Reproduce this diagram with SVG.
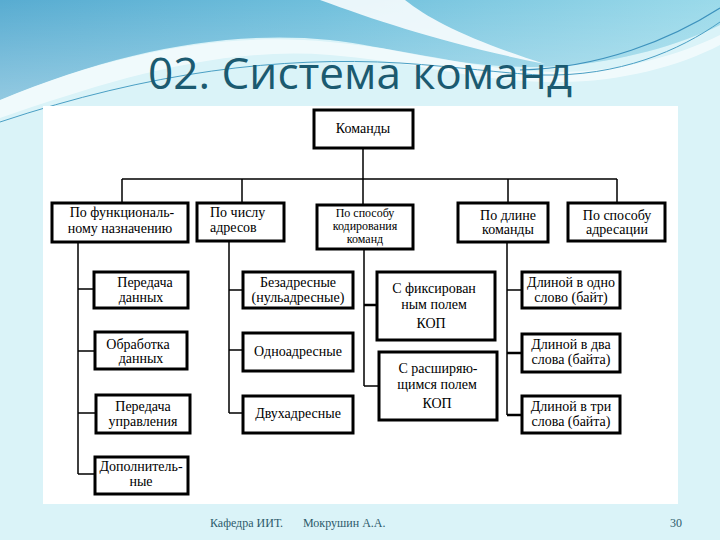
<svg xmlns="http://www.w3.org/2000/svg" width="720" height="540" viewBox="0 0 720 540">
<defs>
<linearGradient id="gTop" x1="0" y1="0" x2="1" y2="0">
<stop offset="0" stop-color="#58acd1"/>
<stop offset="0.45" stop-color="#6fbfdc"/>
<stop offset="1" stop-color="#9bdaea"/>
</linearGradient>
<linearGradient id="gFade" x1="0" y1="0" x2="0" y2="1">
<stop offset="0" stop-color="#ffffff" stop-opacity="0"/>
<stop offset="1" stop-color="#ffffff" stop-opacity="0.35"/>
</linearGradient>
<style>
.box{fill:#ffffff;stroke:#000000;stroke-width:3}
.ln{fill:none;stroke:#000000;stroke-width:1.5}
.lt{fill:none;stroke:#000000;stroke-width:2.5}
.t{font-family:"Liberation Serif","Times New Roman",serif;font-size:14px;fill:#000000;text-anchor:middle}
.ts{font-family:"Liberation Serif","Times New Roman",serif;font-size:14px;fill:#000000}
.tc{font-family:"Liberation Serif","Times New Roman",serif;font-size:12px;fill:#000000;text-anchor:middle}
.ft{font-family:"Liberation Serif","DejaVu Serif",serif;font-size:12px;fill:#2d5b6b}
</style>
</defs>
<rect x="0" y="0" width="720" height="540" fill="#daf3f8"/>
<path d="M0,0 H720 V25 C680,45 620,62 560,66 C470,72 400,48 330,40 C230,30 120,50 0,100 Z" fill="url(#gTop)"/>
<path d="M0,0 H720 V25 C680,45 620,62 560,66 C470,72 400,48 330,40 C230,30 120,50 0,100 Z" fill="url(#gFade)"/>
<path d="M320,0 C380,22 450,45 545,64 C470,40 430,20 405,0 Z" fill="#ffffff" opacity="0.85"/>
<path d="M0,100 C120,50 230,32 330,42 C420,50 480,72 560,72 C620,72 680,55 720,35 V45 C680,66 620,82 560,82 C470,82 420,62 330,55 C220,46 110,80 0,118 Z" fill="#ffffff" opacity="0.6"/>
<path d="M0,122 C150,72 280,56 400,63 C460,67 500,73 540,75 C620,77 680,50 720,22" fill="none" stroke="#4a9fc4" stroke-width="1"/>
<path d="M520,70 C600,68 670,40 720,8" fill="none" stroke="#3d92bd" stroke-width="1.2"/>
<text x="148" y="89" font-family="'Open Sans','Noto Sans','Liberation Sans',sans-serif" font-size="44" fill="#1b5a70" textLength="424" lengthAdjust="spacingAndGlyphs">02. Система команд</text>
<rect x="43" y="106" width="635" height="398" fill="#ffffff"/>
<g id="connectors">
<path class="ln" d="M363,148 V205 M122,179 H617 M122,179 V203 M242,179 V203 M508,179 V203 M617,179 V203"/>
<path class="ln" d="M78,242 V474 M78,289 H94 M78,351 H95 M78,413 H96 M78,474 H95"/>
<path class="ln" d="M229,241 V413 M229,290 H243 M229,350 H243 M229,413 H243"/>
<path class="ln" d="M364,249 V386 M364,386 H379"/>
<path class="lt" d="M364,305 H377"/>
<path class="ln" d="M507,242 V415 M507,290 H522"/>
<path class="lt" d="M507,353 H522 M507,415 H522"/>
</g>
<g id="n-komandy"><rect class="box" x="314" y="110" width="99" height="38"/><text class="t" x="363" y="133">Команды</text></g>
<g id="n-func"><rect class="box" x="52" y="203" width="136" height="39"/><text class="t" x="122" y="217">По функциональ-</text><text class="t" x="120" y="233">ному  назначению</text></g>
<g id="n-addr-count"><rect class="box" x="197" y="203" width="87" height="38"/><text class="ts" x="210" y="217">По числу</text><text class="ts" x="210" y="232">адресов</text></g>
<g id="n-coding"><rect class="box" x="317" y="205" width="96" height="44"/><text class="tc" x="365" y="217">По способу</text><text class="tc" x="365" y="230">кодирования</text><text class="tc" x="365" y="243">команд</text></g>
<g id="n-length"><rect class="box" x="458" y="203" width="90" height="39"/><text class="t" x="508" y="220">По длине</text><text class="t" x="508" y="234">команды</text></g>
<g id="n-addressing"><rect class="box" x="568" y="203" width="97" height="38"/><text class="t" x="617" y="220">По способу</text><text class="t" x="617" y="234">адресации</text></g>
<g id="n-transfer"><rect class="box" x="94" y="272" width="94" height="36"/><text class="t" x="145" y="287">Передача</text><text class="t" x="141" y="302">данных</text></g>
<g id="n-processing"><rect class="box" x="95" y="332" width="92" height="37"/><text class="t" x="138" y="349">Обработка</text><text class="t" x="141" y="363">данных</text></g>
<g id="n-control"><rect class="box" x="96" y="395" width="94" height="38"/><text class="t" x="143" y="411">Передача</text><text class="t" x="143" y="426">управления</text></g>
<g id="n-extra"><rect class="box" x="95" y="457" width="93" height="37"/><text class="t" x="141" y="471">Дополнитель-</text><text class="t" x="141" y="486">ные</text></g>
<g id="n-zero"><rect class="box" x="243" y="272" width="110" height="36"/><text class="t" x="298" y="287">Безадресные</text><text class="t" x="298" y="302">(нульадресные)</text></g>
<g id="n-one"><rect class="box" x="243" y="333" width="110" height="38"/><text class="t" x="298" y="356">Одноадресные</text></g>
<g id="n-two"><rect class="box" x="243" y="396" width="110" height="37"/><text class="t" x="298" y="418">Двухадресные</text></g>
<g id="n-fixed"><rect class="box" x="377" y="272" width="118" height="68"/><text class="t" x="434" y="293">С фиксирован</text><text class="t" x="434" y="309">ным полем</text><text class="t" x="431" y="328">КОП</text></g>
<g id="n-expand"><rect class="box" x="379" y="352" width="118" height="68"/><text class="t" x="438" y="373">С расширяю-</text><text class="t" x="437" y="389">щимся полем</text><text class="t" x="437" y="408">КОП</text></g>
<g id="n-len1"><rect class="box" x="522" y="272" width="98" height="36"/><text class="t" x="571" y="287">Длиной в одно</text><text class="t" x="571" y="302">слово (байт)</text></g>
<g id="n-len2"><rect class="box" x="522" y="334" width="98" height="38"/><text class="t" x="571" y="349">Длиной в два</text><text class="t" x="571" y="364">слова (байта)</text></g>
<g id="n-len3"><rect class="box" x="522" y="396" width="98" height="37"/><text class="t" x="571" y="411">Длиной в три</text><text class="t" x="571" y="426">слова (байта)</text></g>
<text class="ft" x="210" y="527">Кафедра ИИТ.</text>
<text class="ft" x="303" y="527">Мокрушин А.А.</text>
<text class="ft" x="670" y="527">30</text>
</svg>
